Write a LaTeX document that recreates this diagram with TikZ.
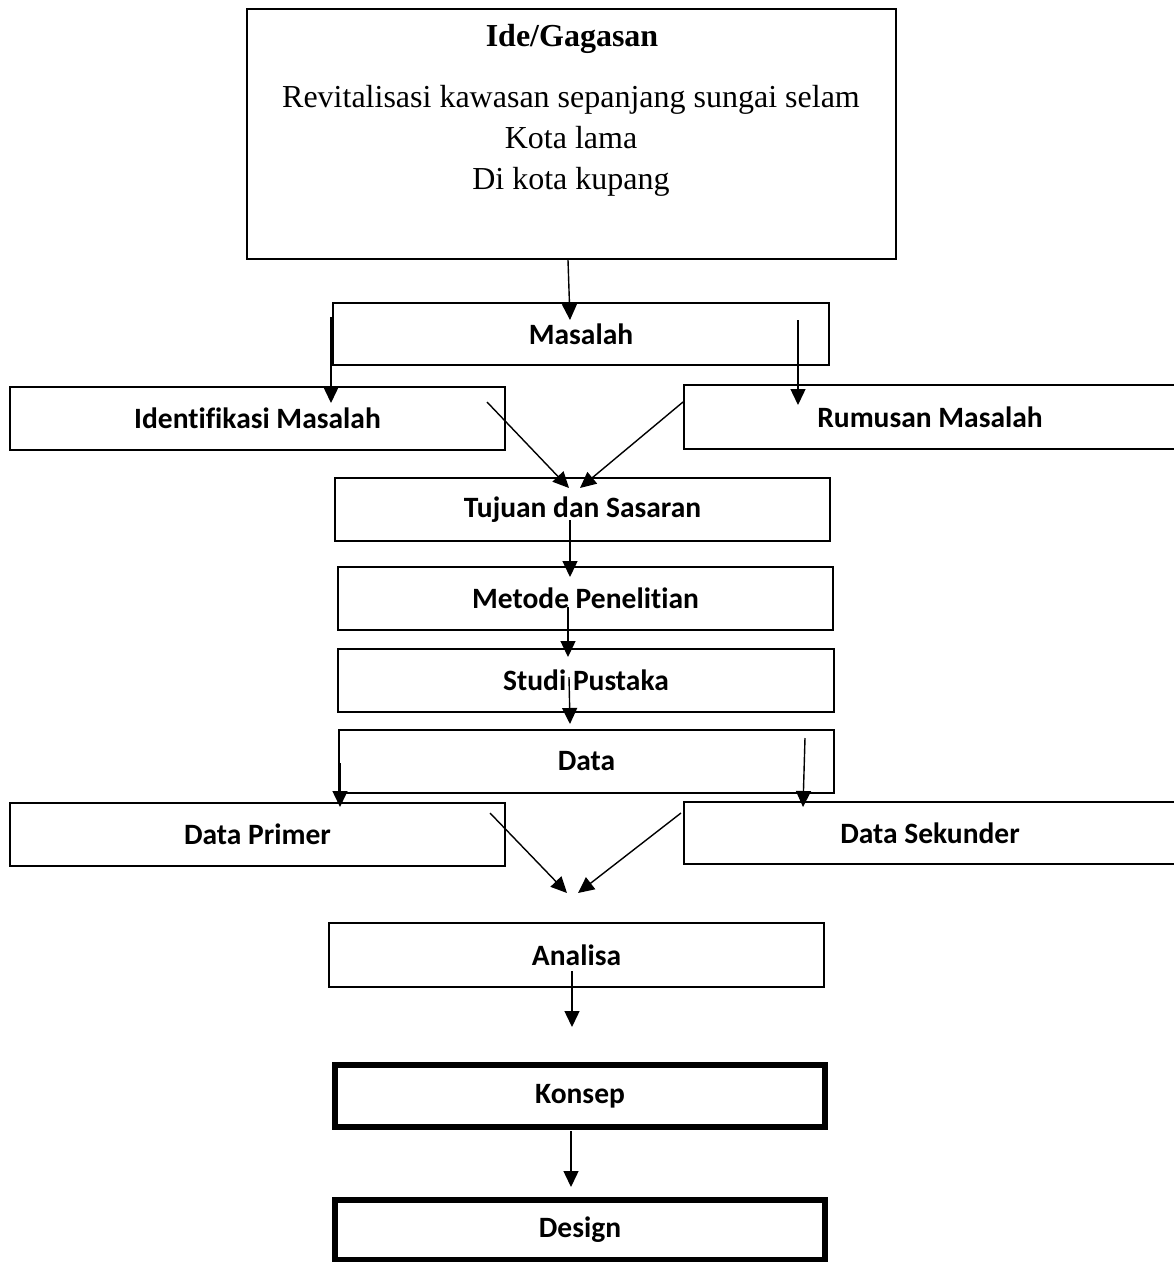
\documentclass[tikz,border=0pt]{standalone}
\usepackage{fontspec}
\setmainfont{Liberation Serif}
\newfontfamily\calfont[Ligatures=NoCommon]{Carlito}
\usetikzlibrary{arrows.meta}
\tikzset{
  box/.style={draw=black, line width=1.8pt, rectangle, inner sep=0pt, font=\calfont\bfseries\fontsize{29.5}{35}\selectfont},
  thickbox/.style={box, line width=5.5pt},
  arr/.style={draw=black, line width=1.4pt, -{Triangle[width=15pt,length=16pt]}}
}
\begin{document}
\begin{tikzpicture}[x=1pt,y=-1pt]
\useasboundingbox (0,0) rectangle (1174,1262);
\fill[white] (0,0) rectangle (1174,1262);
% boxes
\node[box, minimum width=649pt, minimum height=250pt] (ide) at (571.5,134) {};
\node[font=\bfseries\fontsize{32}{38}\selectfont] (idetitle) at (572,39) {Ide/Gagasan};
\node[font=\fontsize{32}{41}\selectfont, align=center] (idetext) at (571,141) {Revitalisasi kawasan sepanjang sungai selam\\Kota lama\\Di kota kupang};
\node[box, minimum width=496pt, minimum height=62pt] (masalah) at (581,334) {Masalah};
\node[box, minimum width=495pt, minimum height=63pt] (ident) at (257.5,418.5) {Identifikasi Masalah};
\node[box, minimum width=492pt, minimum height=64pt] (rumusan) at (930,417) {Rumusan Masalah};
\node[box, minimum width=495pt, minimum height=63pt] (tujuan) at (582.5,509.5) {Tujuan dan Sasaran};
\node[box, minimum width=495pt, minimum height=63pt] (metode) at (585.5,598.5) {Metode Penelitian};
\node[box, minimum width=496pt, minimum height=63pt] (studi) at (586,680.5) {Studi Pustaka};
\node[box, minimum width=495pt, minimum height=63pt] (data) at (586.5,761.5) {Data};
\node[box, minimum width=495pt, minimum height=63pt] (primer) at (257.5,834.5) {Data Primer};
\node[box, minimum width=492pt, minimum height=62pt] (sekunder) at (930,833) {Data Sekunder};
\node[box, minimum width=495pt, minimum height=64pt] (analisa) at (576.5,955) {Analisa};
\node[thickbox, minimum width=490pt, minimum height=62pt] (konsep) at (580,1096) {Konsep};
\node[thickbox, minimum width=490pt, minimum height=60pt] (design) at (580,1230) {Design};
% connector end points
\coordinate (a1s) at (568,260);  \coordinate (a1t) at (570,320);
\coordinate (a2s) at (331,317);  \coordinate (a2t) at (331,403);
\coordinate (a3s) at (798,320);  \coordinate (a3t) at (798,405);
\coordinate (a4s) at (487,402);  \coordinate (a4t) at (569,488);
\coordinate (a5s) at (683,402);  \coordinate (a5t) at (580,488);
\coordinate (a6s) at (570,520);  \coordinate (a6t) at (570,577);
\coordinate (a7s) at (568,607);  \coordinate (a7t) at (568,657);
\coordinate (a8s) at (569,677);  \coordinate (a8t) at (570,724);
\coordinate (a9s) at (340,763);  \coordinate (a9t) at (340,807);
\coordinate (a10s) at (805,738); \coordinate (a10t) at (803,807);
\coordinate (a11s) at (490,813); \coordinate (a11t) at (567,893);
\coordinate (a12s) at (681,813); \coordinate (a12t) at (578,893);
\coordinate (a13s) at (572,971); \coordinate (a13t) at (572,1027);
\coordinate (a14s) at (571,1131); \coordinate (a14t) at (571,1187);
% connectors
\draw[arr] (a1s) -- (a1t);
\draw[arr] (a2s) -- (a2t);
\draw[arr] (a3s) -- (a3t);
\draw[arr] (a4s) -- (a4t);
\draw[arr] (a5s) -- (a5t);
\draw[arr] (a6s) -- (a6t);
\draw[arr] (a7s) -- (a7t);
\draw[arr] (a8s) -- (a8t);
\draw[arr] (a9s) -- (a9t);
\draw[arr] (a10s) -- (a10t);
\draw[arr] (a11s) -- (a11t);
\draw[arr] (a12s) -- (a12t);
\draw[arr] (a13s) -- (a13t);
\draw[arr] (a14s) -- (a14t);
\end{tikzpicture}
\end{document}
